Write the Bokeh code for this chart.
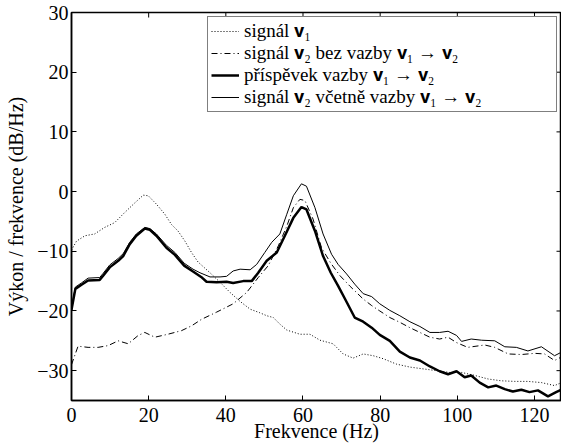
from bokeh.plotting import figure
from bokeh.models import FixedTicker, Legend, LegendItem, Range1d
from bokeh.embed import file_html
from bokeh.resources import INLINE

# ---- data ----
f_v1 = [0, 1.3, 3.5, 6, 8.6, 11.2, 13.8, 16.4, 18.6, 19.9, 22, 24.2, 25.9, 27.6, 29.4, 31.1,
        32.8, 35.9, 38.5, 41.1, 43.7, 46.3, 48.8, 50.6, 52.3, 54, 55.8, 59.2, 61.8, 64.4, 67.8,
        70.4, 73, 75.6, 78.2, 80.8, 84.2, 87.7, 91.1, 94.6, 98, 101.1, 104.5, 108, 111.4, 114.9,
        118.3, 121.8, 125.2, 127]
v1 = [-9.8, -8.3, -7.4, -7.1, -6.0, -5.2, -3.5, -1.9, -0.6, -0.7, -2.1, -3.8, -5.5, -6.6, -8.3,
      -10.2, -11.8, -13.6, -15.2, -16.9, -18.4, -19.7, -20.3, -20.8, -21.1, -22.2, -23.2, -23.9,
      -23.9, -24.9, -25.5, -27.2, -27.9, -27.2, -27.5, -28.0, -28.9, -29.4, -29.7, -30.0, -30.3,
      -30.3, -30.8, -31.4, -31.7, -31.8, -31.8, -32.0, -32.5, -32.0]

f_v2 = [0, 1.7, 4.3, 6.9, 9.5, 12.1, 14.7, 17.3, 19, 21.6, 25, 28.5, 31.1, 33.7, 37.6, 41.9,
        45.4, 48.4, 51, 53.6, 55.8, 57.5, 59.2, 60.5, 62.6, 64.8, 67.2, 69.6, 72.1, 75.6, 77.8,
        79.9, 82.5, 85.1, 87.7, 90.3, 92.9, 95.4, 97.6, 99.8, 102.7, 107.1, 109.7, 113.2, 116.6,
        120, 122.6, 125.2, 127]
v2 = [-29.0, -25.9, -26.1, -26.1, -25.8, -25.0, -25.5, -24.1, -23.6, -24.4, -23.9, -23.3, -22.5,
      -21.4, -20.2, -18.8, -16.9, -14.4, -12.4, -9.1, -5.8, -2.7, -1.3, -1.5, -4.6, -9.4, -12.0,
      -14.1, -15.8, -18.0, -19.1, -20.0, -21.1, -21.9, -22.8, -23.6, -24.4, -24.7, -24.4, -25.3,
      -26.1, -25.7, -26.1, -27.2, -27.3, -27.1, -27.2, -28.3, -27.7]

f_c = [0, 1, 2.6, 4.3, 7.3, 8.2, 9.9, 12.1, 13.4, 15.1, 16.8, 19, 20.3, 22, 24.6, 26.8, 29.2,
       31.5, 33.6, 35, 37.6, 40.2, 41.9, 44.5, 46.7, 48.4, 50.6, 53.2, 55.3, 57.5, 59.6, 60.9,
       63.1, 65.2, 67.2, 69.1, 70.9, 73.4, 75.6, 77.8, 79.9, 82.5, 85.1, 87.7, 90.3, 92.9, 95.4,
       97.6, 99.8, 101.9, 103.6, 105.8, 108, 110.1, 112.3, 114.4, 116.6, 118.7, 120.9, 123.5,
       125.6, 127]
c = [-19.8, -16.3, -15.6, -14.9, -14.8, -14.1, -12.7, -11.6, -10.8, -8.8, -7.4, -6.2, -6.4,
     -7.4, -9.4, -10.6, -12.4, -13.4, -14.3, -15.1, -15.2, -15.1, -15.3, -15.0, -15.0, -13.6,
     -11.6, -10.2, -7.4, -4.4, -2.6, -3.0, -6.6, -10.8, -13.6, -15.8, -18.0, -21.1, -21.8,
     -22.8, -24.0, -25.0, -26.8, -27.8, -28.3, -29.3, -30.1, -30.6, -30.1, -31.1, -30.8, -32.0,
     -32.8, -32.5, -33.1, -33.5, -33.2, -33.6, -33.3, -34.3, -33.6, -33.2]

f_t = [0, 1, 2.6, 4.3, 7.3, 8.2, 9.9, 12.1, 13.4, 15.1, 16.8, 19, 20.3, 22, 24.6, 26.8, 29.2,
       31.5, 33.3, 35.9, 38.5, 40.2, 41.9, 43.7, 46.3, 48, 50.1, 51.9, 54, 55.8, 57.5, 59.6,
       60.9, 63.1, 65.2, 67.4, 69.1, 71.3, 73.4, 75.6, 77.8, 79.9, 82.5, 85.1, 87.7, 90.3, 92.9,
       95.4, 97.6, 99.8, 101.1, 103.6, 106.3, 109.7, 112.3, 115.3, 118.3, 121.8, 125.2, 127]
t = [-19.5, -16.0, -15.3, -14.5, -14.4, -13.7, -12.3, -11.2, -10.4, -8.5, -7.1, -6.0, -6.2,
     -7.1, -9.0, -10.2, -12.0, -13.0, -13.6, -14.3, -14.3, -14.2, -13.3, -13.0, -13.1, -12.2,
     -10.2, -8.5, -7.1, -3.8, -0.7, 1.3, 0.9, -2.7, -7.1, -10.5, -12.2, -13.8, -15.5, -17.1,
     -17.6, -18.8, -19.9, -20.8, -21.8, -22.6, -23.6, -23.6, -23.4, -24.1, -25.1, -24.7, -24.9,
     -25.0, -26.0, -26.1, -26.7, -26.0, -27.5, -26.9]

x_ticks = [0, 20, 40, 60, 80, 100, 120]
y_ticks = [-30, -20, -10, 0, 10, 20, 30]
y_tick_labels = ["\u221230", "\u221220", "\u221210", "0", "10", "20", "30"]

labels = [
    "signál \U0001D42F\u2081",
    "signál \U0001D42F\u2082 bez vazby \U0001D42F\u2081 \u2192 \U0001D42F\u2082",
    "příspěvek vazby \U0001D42F\u2081 \u2192 \U0001D42F\u2082",
    "signál \U0001D42F\u2082 včetně vazby \U0001D42F\u2081 \u2192 \U0001D42F\u2082",
]
x_label = "Frekvence (Hz)"
y_label = "Výkon / frekvence (dB/Hz)"

X0, X1 = 0, 127
Y0, Y1 = -35, 30

FONT = "'Liberation Serif', 'DejaVu Serif', serif"
FS = "20px"

W, H = 561, 447
BL, BR, BT, BB = 71, 0, 12, 47

p = figure(width=W, height=H, output_backend="svg", toolbar_location=None,
           x_range=Range1d(X0, X1), y_range=Range1d(Y0, Y1))
p.min_border_left = BL
p.min_border_right = BR
p.min_border_top = BT
p.min_border_bottom = BB
p.background_fill_color = "white"
p.border_fill_color = "white"
p.outline_line_color = "black"
p.outline_line_width = 1.5
p.xgrid.visible = False
p.ygrid.visible = False

r1 = p.line(f_v1, v1, line_color="black", line_width=1, line_dash="1 2")
r2 = p.line(f_v2, v2, line_color="black", line_width=1, line_dash="6 3 1 3")
r3 = p.line(f_c, c, line_color="black", line_width=2.5)
r4 = p.line(f_t, t, line_color="black", line_width=1)

# inward ticks on the top and right edges (length 5 px, converted to data units)
tick_px = 5
dy = (Y1 - Y0) * tick_px / (H - BT - BB)
dx = (X1 - X0) * tick_px / (W - BL - BR)
p.segment(x0=x_ticks, y0=[Y1] * len(x_ticks), x1=x_ticks, y1=[Y1 - dy] * len(x_ticks),
          line_color="black", line_width=1)
p.segment(x0=[X1] * len(y_ticks), y0=y_ticks, x1=[X1 - dx] * len(y_ticks), y1=y_ticks,
          line_color="black", line_width=1)

for ax in (p.xaxis[0], p.yaxis[0]):
    ax.axis_line_color = "black"
    ax.axis_line_width = 1.5
    ax.major_tick_in = 5
    ax.major_tick_out = 0
    ax.minor_tick_in = 0
    ax.minor_tick_out = 0
    ax.major_tick_line_color = "black"
    ax.major_label_text_font = FONT
    ax.major_label_text_font_size = FS
    ax.major_label_text_color = "black"
    ax.axis_label_text_font = FONT
    ax.axis_label_text_font_size = FS
    ax.axis_label_text_font_style = "normal"
    ax.axis_label_text_color = "black"

p.xaxis[0].ticker = FixedTicker(ticks=x_ticks)
p.yaxis[0].ticker = FixedTicker(ticks=y_ticks)
p.yaxis[0].major_label_overrides = dict(zip(y_ticks, y_tick_labels))
p.xaxis[0].axis_label = x_label
p.yaxis[0].axis_label = y_label
p.xaxis[0].major_label_standoff = 7
p.xaxis[0].axis_label_standoff = -5
p.yaxis[0].major_label_standoff = 3
p.yaxis[0].axis_label_standoff = 7

legend = Legend(items=[LegendItem(label=labels[0], renderers=[r1]),
                       LegendItem(label=labels[1], renderers=[r2]),
                       LegendItem(label=labels[2], renderers=[r3]),
                       LegendItem(label=labels[3], renderers=[r4])],
                location="top_right")
legend.label_text_font = FONT
legend.label_text_font_size = "19px"
legend.label_text_color = "black"
legend.border_line_color = "black"
legend.border_line_width = 1.5
legend.background_fill_alpha = 1
legend.glyph_width = 28
legend.glyph_height = 20
legend.label_height = 20
legend.label_width = 309
legend.label_standoff = 5
legend.spacing = 0
legend.padding = 3
legend.margin = 4
p.add_layout(legend)

open("out.html", "w").write(file_html(p, INLINE))
